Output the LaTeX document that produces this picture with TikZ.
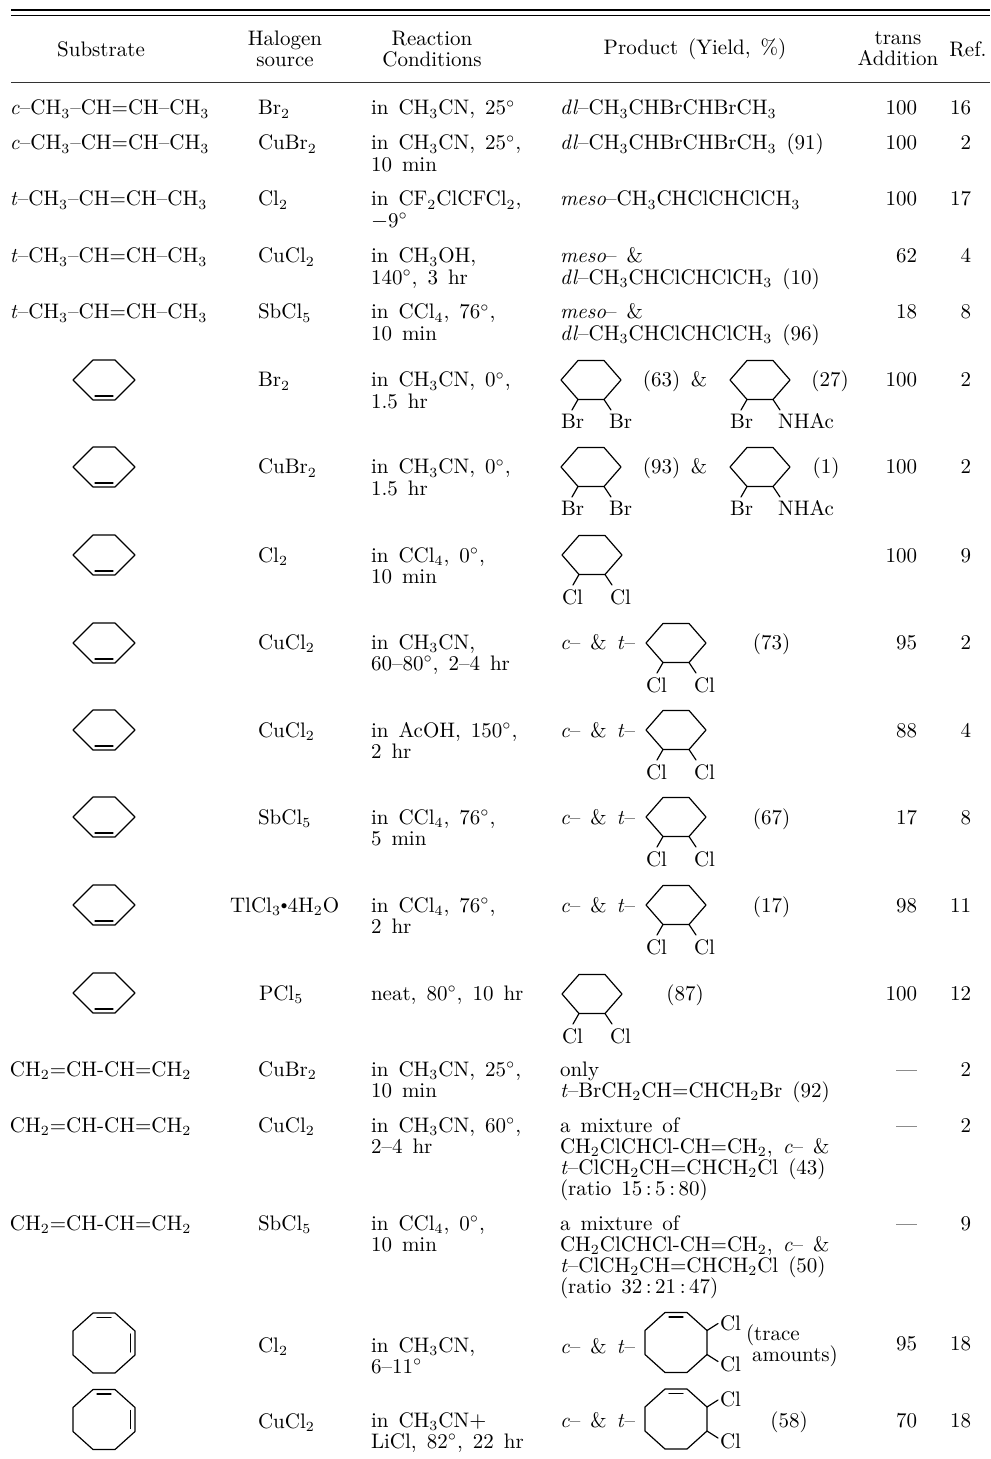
\documentclass[tikz,border=0pt]{standalone}
\usepackage{graphicx}
\newcommand\tabfont{\fontsize{10.5}{10.6}\selectfont}
\newcommand\widesp{\spaceskip 5pt plus 1pt\relax}
\newcommand\hydr{$\vcenter{\hbox{\scalebox{0.6}{$\bullet$}}}$}
\tikzset{
  cell/.style={anchor=base west, inner sep=0pt, outer sep=0pt, text width=200pt, align=left, font=\tabfont, execute at begin node=\widesp},
  head/.style={anchor=center, inner sep=0pt, outer sep=0pt, align=center, font=\tabfont, execute at begin node=\widesp},
  num/.style={anchor=base east, inner sep=0pt, outer sep=0pt, font=\tabfont},
  mid/.style={anchor=base, inner sep=0pt, outer sep=0pt, font=\tabfont},
  bond/.style={line width=0.6pt, line join=round, line cap=round},
  pics/hexene/.style={code={
    \draw[bond] (-31,0) -- (-11,-20) -- (11,-20) -- (31,0) -- (11,20) -- (-11,20) -- cycle;
    \draw[bond] (-9,16) -- (9,16);
  }},
  pics/dihalo/.style 2 args={code={
    \draw[bond] (-30,0) -- (-13,-19.5) -- (13,-19.5) -- (30,0) -- (13,19.5) -- (-13,19.5) -- cycle;
    \draw[bond] (-13,19.5) -- (-19,30) (13,19.5) -- (20,30);
    \node[cell] (-l) at (-30,49) {#1};
    \node[cell] (-r) at (18,49) {#2};
  }},
  pics/cod/.style={code={
    \draw[bond] (-11,-30) -- (11,-30) -- (31,-12) -- (31,12) -- (11,30) -- (-11,30) -- (-31,12) -- (-31,-12) -- cycle;
    \draw[bond] (-7,-25.5) -- (7,-25.5) (26.5,-9) -- (26.5,9);
  }},
  pics/codcl/.style={code={
    \draw[bond] (-11,-30) -- (11,-30) -- (31,-12) -- (31,12) -- (11,30) -- (-11,30) -- (-31,12) -- (-31,-12) -- cycle;
    \draw[bond] (-7,-25.5) -- (7,-25.5);
    \draw[bond] (31,-12) -- (42,-19) (31,12) -- (42,19);
    \node[cell] (-a) at (44,-12.5) {Cl};
    \node[cell] (-b) at (44,29) {Cl};
  }}
}
\begin{document}
\begin{tikzpicture}[x=0.5pt,y=-0.5pt]
\path[use as bounding box,fill=white] (0,0) rectangle (990,1459);

\draw[line width=1.4pt] (11,10) -- (990,10);
\draw[line width=0.5pt] (11,16) -- (990,16);
\draw[line width=0.5pt,black!80] (11,83) -- (990,83);

\node[head] (hsub) at (101,49) {Substrate};
\node[head] (hhal) at (285,49) {Halogen\\source};
\node[head] (hcon) at (432,49) {Reaction\\Conditions};
\node[head] (hpro) at (695,49) {Product (Yield, \%)};
\node[head] (htra) at (898,49) {trans\\Addition};
\node[head] (href) at (968,49) {Ref.};

% butenes
\node[cell] (s1) at (10,115) {\textit{c}--CH$_3$--CH=CH--CH$_3$};
\node[cell] (h1) at (258,115) {Br$_2$};
\node[cell] (k1) at (371,115) {in CH$_3$CN, 25$^\circ$};
\node[cell] (p1) at (560,115) {\textit{dl}--CH$_3$CHBrCHBrCH$_3$};
\node[num] (t1) at (917,115) {100};
\node[num] (r1) at (971,115) {16};

\node[cell] (s2) at (10,150) {\textit{c}--CH$_3$--CH=CH--CH$_3$};
\node[cell] (h2) at (258,150) {CuBr$_2$};
\node[cell] (k2) at (371,150) {in CH$_3$CN, 25$^\circ$,\\10 min};
\node[cell] (p2) at (560,150) {\textit{dl}--CH$_3$CHBrCHBrCH$_3$ (91)};
\node[num] (t2) at (917,150) {100};
\node[num] (r2) at (971,150) {2};

\node[cell] (s3) at (10,206) {\textit{t}--CH$_3$--CH=CH--CH$_3$};
\node[cell] (h3) at (258,206) {Cl$_2$};
\node[cell] (k3) at (371,206) {in CF$_2$ClCFCl$_2$,\\$-$9$^\circ$};
\node[cell] (p3) at (560,206) {\textit{meso}--CH$_3$CHClCHClCH$_3$};
\node[num] (t3) at (917,206) {100};
\node[num] (r3) at (971,206) {17};

\node[cell] (s4) at (10,263) {\textit{t}--CH$_3$--CH=CH--CH$_3$};
\node[cell] (h4) at (258,263) {CuCl$_2$};
\node[cell] (k4) at (371,263) {in CH$_3$OH,\\140$^\circ$, 3 hr};
\node[cell] (p4) at (560,263) {\textit{meso}-- \&\\\textit{dl}--CH$_3$CHClCHClCH$_3$ (10)};
\node[num] (t4) at (917,263) {62};
\node[num] (r4) at (971,263) {4};

\node[cell] (s5) at (10,319) {\textit{t}--CH$_3$--CH=CH--CH$_3$};
\node[cell] (h5) at (258,319) {SbCl$_5$};
\node[cell] (k5) at (371,319) {in CCl$_4$, 76$^\circ$,\\10 min};
\node[cell] (p5) at (560,319) {\textit{meso}-- \&\\\textit{dl}--CH$_3$CHClCHClCH$_3$ (96)};
\node[num] (t5) at (917,319) {18};
\node[num] (r5) at (971,319) {8};

% cyclohexene
\pic (s6) at (104,380) {hexene};
\node[cell] (h6) at (258,387) {Br$_2$};
\node[cell] (k6) at (371,387) {in CH$_3$CN, 0$^\circ$,\\1.5 hr};
\pic (q6a) at (591,380) {dihalo={Br}{Br}};
\node[mid] (y6a) at (661.5,387) {(63)};
\node[mid] (y6b) at (699,387) {\&};
\pic (q6b) at (760,380) {dihalo={Br}{NHAc}};
\node[mid] (y6c) at (830,387) {(27)};
\node[num] (t6) at (917,387) {100};
\node[num] (r6) at (971,387) {2};

\pic (s7) at (104,467) {hexene};
\node[cell] (h7) at (258,474) {CuBr$_2$};
\node[cell] (k7) at (371,474) {in CH$_3$CN, 0$^\circ$,\\1.5 hr};
\pic (q7a) at (591,467) {dihalo={Br}{Br}};
\node[mid] (y7a) at (661.5,474) {(93)};
\node[mid] (y7b) at (699,474) {\&};
\pic (q7b) at (760,467) {dihalo={Br}{NHAc}};
\node[mid] (y7c) at (826,474) {(1)};
\node[num] (t7) at (917,474) {100};
\node[num] (r7) at (971,474) {2};

\pic (s8) at (104,555) {hexene};
\node[cell] (h8) at (258,562) {Cl$_2$};
\node[cell] (k8) at (371,562) {in CCl$_4$, 0$^\circ$,\\10 min};
\pic (q8) at (592,555) {dihalo={Cl}{Cl}};
\node[num] (t8) at (917,562) {100};
\node[num] (r8) at (971,562) {9};

\pic (s9) at (104,643) {hexene};
\node[cell] (h9) at (258,649) {CuCl$_2$};
\node[cell] (k9) at (371,649) {in CH$_3$CN,\\60--80$^\circ$, 2--4 hr};
\node[cell] (c9) at (560,649) {\textit{c}-- \& \textit{t}--};
\pic (q9) at (676,643) {dihalo={Cl}{Cl}};
\node[mid] (y9) at (771.5,649) {(73)};
\node[num] (t9) at (917,649) {95};
\node[num] (r9) at (971,649) {2};

\pic (s10) at (104,730) {hexene};
\node[cell] (h10) at (258,737) {CuCl$_2$};
\node[cell] (k10) at (371,737) {in AcOH, 150$^\circ$,\\2 hr};
\node[cell] (c10) at (560,737) {\textit{c}-- \& \textit{t}--};
\pic (q10) at (676,730) {dihalo={Cl}{Cl}};
\node[num] (t10) at (917,737) {88};
\node[num] (r10) at (971,737) {4};

\pic (s11) at (104,817) {hexene};
\node[cell] (h11) at (258,824) {SbCl$_5$};
\node[cell] (k11) at (371,824) {in CCl$_4$, 76$^\circ$,\\5 min};
\node[cell] (c11) at (560,824) {\textit{c}-- \& \textit{t}--};
\pic (q11) at (676,817) {dihalo={Cl}{Cl}};
\node[mid] (y11) at (771.5,824) {(67)};
\node[num] (t11) at (917,824) {17};
\node[num] (r11) at (971,824) {8};

\pic (s12) at (104,905) {hexene};
\node[cell] (h12) at (230,912) {TlCl$_3$\hydr4H$_2$O};
\node[cell] (k12) at (371,912) {in CCl$_4$, 76$^\circ$,\\2 hr};
\node[cell] (c12) at (560,912) {\textit{c}-- \& \textit{t}--};
\pic (q12) at (676,905) {dihalo={Cl}{Cl}};
\node[mid] (y12) at (771.5,912) {(17)};
\node[num] (t12) at (917,912) {98};
\node[num] (r12) at (971,912) {11};

\pic (s13) at (104,993) {hexene};
\node[cell] (h13) at (259,1000) {PCl$_5$};
\node[cell] (k13) at (371,1000) {neat, 80$^\circ$, 10 hr};
\pic (q13) at (592,994) {dihalo={Cl}{Cl}};
\node[mid] (y13) at (685,1000) {(87)};
\node[num] (t13) at (917,1000) {100};
\node[num] (r13) at (971,1000) {12};

% butadiene
\node[cell] (s14) at (10,1076) {CH$_2$=CH-CH=CH$_2$};
\node[cell] (h14) at (258,1076) {CuBr$_2$};
\node[cell] (k14) at (371,1076) {in CH$_3$CN, 25$^\circ$,\\10 min};
\node[cell] (p14) at (560,1076) {only\\\textit{t}--BrCH$_2$CH=CHCH$_2$Br (92)};
\node[num] (t14) at (917,1076) {---};
\node[num] (r14) at (971,1076) {2};

\node[cell] (s15) at (10,1132) {CH$_2$=CH-CH=CH$_2$};
\node[cell] (h15) at (258,1132) {CuCl$_2$};
\node[cell] (k15) at (371,1132) {in CH$_3$CN, 60$^\circ$,\\2--4 hr};
\node[cell] (p15) at (560,1132) {a mixture of\\CH$_2$ClCHCl-CH=CH$_2$, \textit{c}-- \&\\\textit{t}--ClCH$_2$CH=CHCH$_2$Cl (43)\\(ratio 15\,:\,5\,:\,80)};
\node[num] (t15) at (917,1132) {---};
\node[num] (r15) at (971,1132) {2};

\node[cell] (s16) at (10,1230) {CH$_2$=CH-CH=CH$_2$};
\node[cell] (h16) at (258,1230) {SbCl$_5$};
\node[cell] (k16) at (371,1230) {in CCl$_4$, 0$^\circ$,\\10 min};
\node[cell] (p16) at (560,1230) {a mixture of\\CH$_2$ClCHCl-CH=CH$_2$, \textit{c}-- \&\\\textit{t}--ClCH$_2$CH=CHCH$_2$Cl (50)\\(ratio 32\,:\,21\,:\,47)};
\node[num] (t16) at (917,1230) {---};
\node[num] (r16) at (971,1230) {9};

% cyclooctadiene
\pic (s17) at (104,1343) {cod};
\node[cell] (h17) at (258,1352) {Cl$_2$};
\node[cell] (k17) at (371,1352) {in CH$_3$CN,\\6--11$^\circ$};
\node[cell] (c17) at (560,1353) {\textit{c}-- \& \textit{t}--};
\pic (q17) at (676,1342.5) {codcl};
\node[cell] (y17) at (746,1340) {(trace\\\hspace*{3pt}amounts)};
\node[num] (t17) at (917,1350) {95};
\node[num] (r17) at (971,1350) {18};

\pic (s18) at (104,1419.5) {cod};
\node[cell] (h18) at (258,1428) {CuCl$_2$};
\node[cell] (k18) at (371,1427) {in CH$_3$CN$+$\\LiCl, 82$^\circ$, 22 hr};
\node[cell] (c18) at (560,1427) {\textit{c}-- \& \textit{t}--};
\pic (q18) at (676,1419) {codcl};
\node[mid] (y18) at (789,1427) {(58)};
\node[num] (t18) at (917,1427) {70};
\node[num] (r18) at (971,1427) {18};
\end{tikzpicture}
\end{document}
